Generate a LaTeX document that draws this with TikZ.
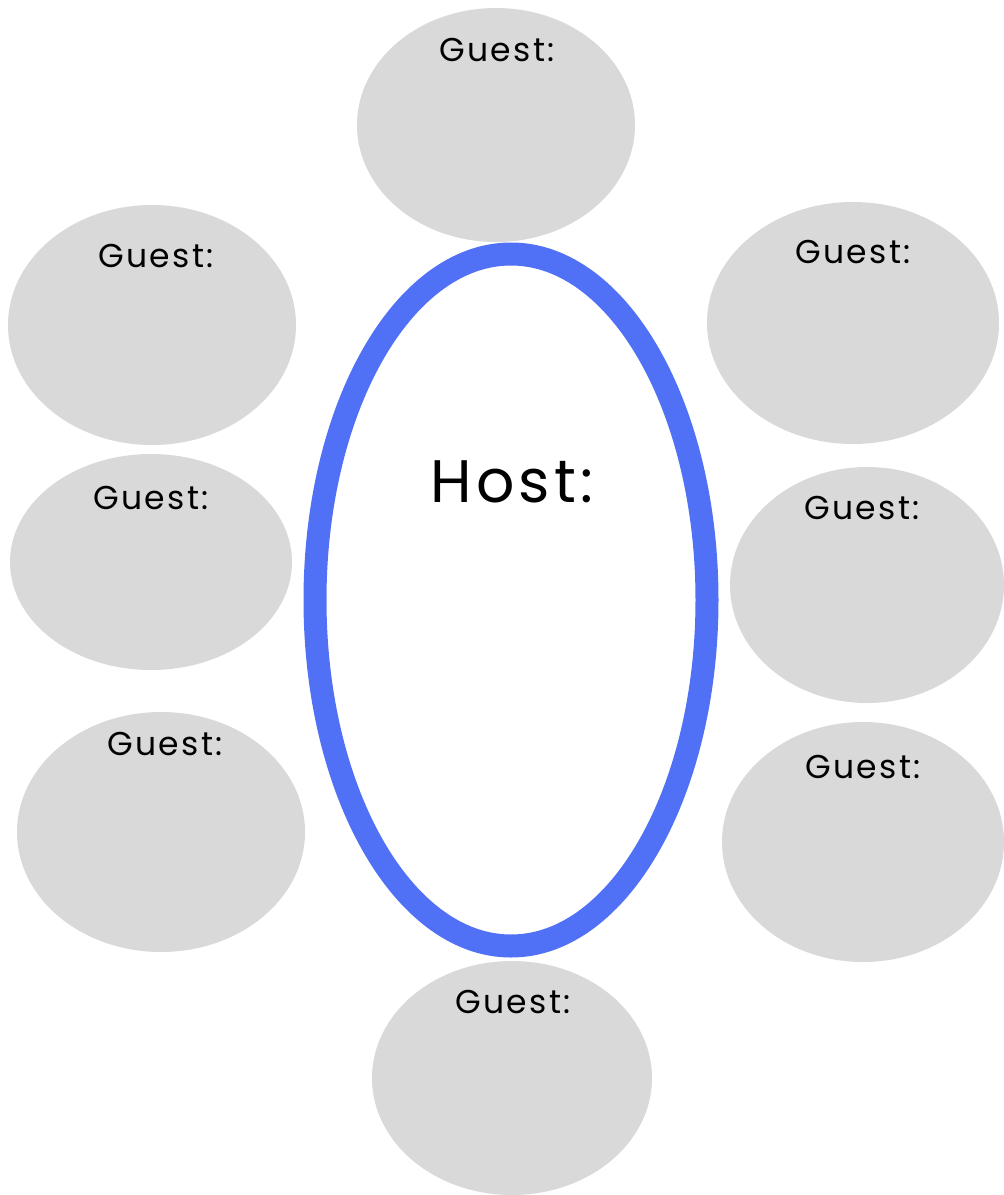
\documentclass[tikz,border=0pt]{standalone}
\usepackage{fontspec}
\setmainfont{Poppins}[LetterSpace=7]
\definecolor{seat}{RGB}{217,217,217}
\definecolor{hostblue}{RGB}{80,113,245}
\begin{document}
\begin{tikzpicture}[x=1pt,y=-1pt,
  guest/.style={fill=seat,draw=none},
  glabel/.style={font=\fontsize{33}{36}\selectfont,text=black},
  hlabel/.style={font=\fontsize{60}{66}\selectfont,text=black}]
\useasboundingbox (0,0) rectangle (1004,1195);
\fill[white] (0,0) rectangle (1004,1195);
% guests
\fill[guest] (496,125) ellipse [x radius=139, y radius=117];
\fill[guest] (152,325) ellipse [x radius=144, y radius=120];
\fill[guest] (151,562) ellipse [x radius=141, y radius=108];
\fill[guest] (161,832) ellipse [x radius=144, y radius=120];
\fill[guest] (853,323) ellipse [x radius=146, y radius=121];
\fill[guest] (867,585) ellipse [x radius=137, y radius=118];
\fill[guest] (863,842) ellipse [x radius=141, y radius=120];
\fill[guest] (512,1078) ellipse [x radius=140, y radius=117];
% host table
\draw[hostblue,line width=23pt,fill=white] (511,600) ellipse [x radius=196, y radius=346];
\node[hlabel] (host) at (512,482) {Host:};
\node[glabel] (g1) at (497,50) {Guest:};
\node[glabel] (g2) at (156,256) {Guest:};
\node[glabel] (g3) at (151,498) {Guest:};
\node[glabel] (g4) at (165,744) {Guest:};
\node[glabel] (g5) at (853,252) {Guest:};
\node[glabel] (g6) at (862,508) {Guest:};
\node[glabel] (g7) at (863,767) {Guest:};
\node[glabel] (g8) at (513,1002) {Guest:};
\end{tikzpicture}
\end{document}
